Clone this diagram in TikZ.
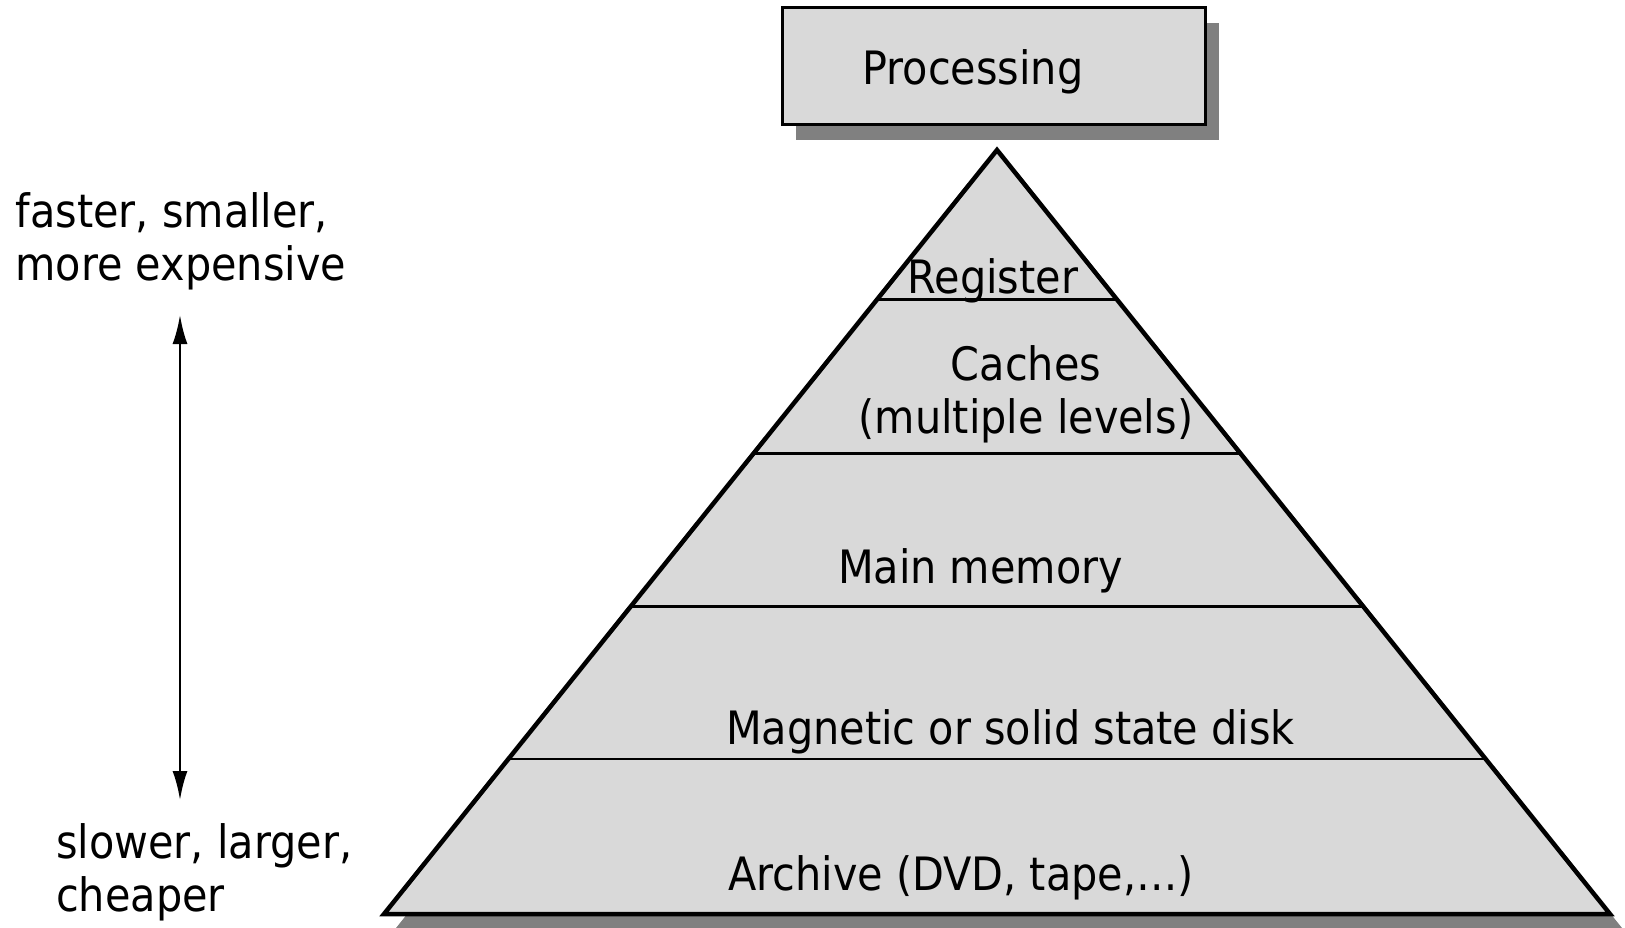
\documentclass[tikz,border=0pt]{standalone}
\usepackage{fontspec}
\setmainfont{DejaVu Sans Condensed}
\usetikzlibrary{arrows.meta,calc}
\definecolor{layergray}{RGB}{217,217,217}
\definecolor{shadowgray}{RGB}{128,128,128}
\tikzset{
  lbl/.style={inner sep=0pt, anchor=base, font=\fontsize{46}{53}\selectfont},
  layerline/.style={line width=2.8pt},
  shadowed/.style={fill=shadowgray},
}
\begin{document}
\begin{tikzpicture}[x=1pt,y=-1pt]
    \useasboundingbox (0,0) rectangle (1625,928);

    % Processing box with its shadow
    \fill[shadowed] (796,23) rectangle (1219,140);
    \node[draw, line width=3pt, fill=layergray, minimum width=423pt, minimum height=117pt, inner sep=0pt] (proc) at (993.5,66.5) {};
    \node[lbl] (proctext) at (973,85) {Processing};

    % corners of the pyramid
    \coordinate (apex) at (997,150);
    \coordinate (bl) at (384,914);
    \coordinate (br) at (1610,914);

    % pyramid with its shadow
    \fill[shadowed] ([shift={(12,14)}]apex) -- ([shift={(12,14)}]br) -- ([shift={(12,14)}]bl) -- cycle;
    \filldraw[fill=layergray, line width=4.5pt, line join=miter] (apex) -- (br) -- (bl) -- cycle;

    % borders between the levels
    \foreach \t in {0.196,0.397,0.598,0.797}
        \draw[layerline] ($(apex)!\t!(bl)$) -- ($(apex)!\t!(br)$);

    % levels (a node of two lines sits on its last line)
    \node[lbl] (reg) at (993,293) {Register};
    \node[lbl, align=center] (cache) at (1026,433) {Caches\\(multiple levels)};
    \node[lbl] (mem) at (980.5,583) {Main memory};
    \node[lbl] (disk) at (1010.5,744) {Magnetic or solid state disk};
    \node[lbl] (arch) at (961,890) {Archive (DVD, tape,…)};

    % speed, size and cost
    \node[lbl, anchor=base west, align=left] (fast) at (15.5,280) {faster, smaller,\\more expensive};
    \node[lbl, anchor=base west, align=left] (slow) at (56,911) {slower, larger,\\cheaper};
    \coordinate (up) at (180,315);
    \coordinate (down) at (180,800);
    \draw[{Latex[length=29pt,width=15pt]}-{Latex[length=29pt,width=15pt]}, line width=2.5pt] (up) -- (down);
\end{tikzpicture}
\end{document}
